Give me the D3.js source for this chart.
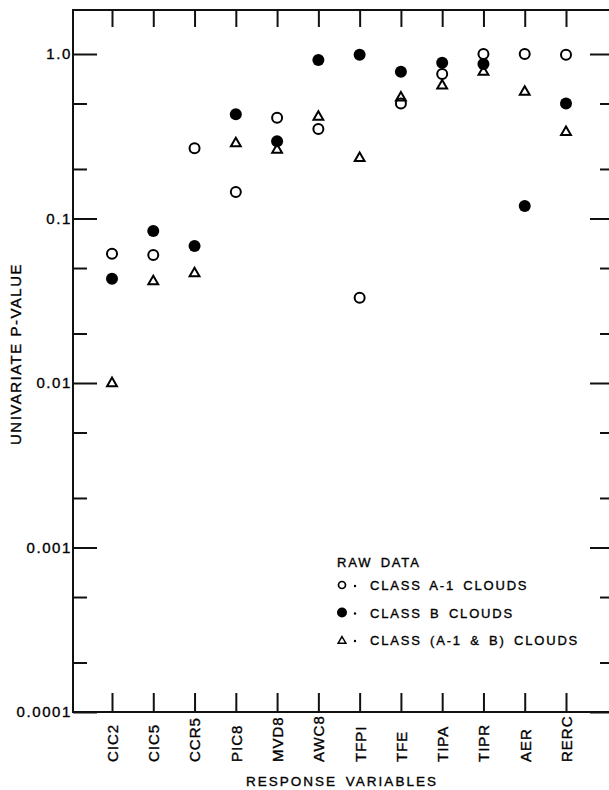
<!DOCTYPE html>
<html>

<head>
    <meta charset="utf-8" />
    <title>Univariate P-Value</title>
    <script type="text/javascript" src="https://cdn.jsdelivr.net/npm/d3@7"></script>
    <style>
        body { margin: 0; background: #fff; }
        svg text { font-family: "Liberation Sans", Arial, Helvetica, sans-serif; fill: #000; stroke: #000; stroke-width: 0.35; }
    </style>
</head>

<body>
    <script type="text/javascript">
        var categories = ["CIC2", "CIC5", "CCR5", "PIC8", "MVD8", "AWC8", "TFPI", "TFE", "TIPA", "TIPR", "AER", "RERC"];
        var classA1 = [0.061, 0.060, 0.267, 0.145, 0.41, 0.35, 0.033, 0.50, 0.755, 1.0, 1.0, 0.99];
        var classB = [0.043, 0.084, 0.068, 0.43, 0.295, 0.92, 0.99, 0.78, 0.885, 0.87, 0.119, 0.50];
        var classAB = [0.0101, 0.042, 0.047, 0.29, 0.265, 0.42, 0.236, 0.55, 0.65, 0.79, 0.596, 0.34];
        var majorTicks = [1, 0.1, 0.01, 0.001, 0.0001];
        var majorLabels = ["1.0", "0.1", "0.01", "0.001", "0.0001"];
        var minorTicks = [0.5, 0.2, 0.05, 0.02, 0.005, 0.002, 0.0005, 0.0002];
        var legendLabels = ["CLASS A-1 CLOUDS", "CLASS B CLOUDS", "CLASS (A-1 & B) CLOUDS"];

        var width = 609,
            height = 790,
            plotLeft = 73,
            plotRight = 611,
            plotTop = 10,
            plotBottom = 712;

        var svg = d3.select("body")
            .append("svg")
            .attr("width", width)
            .attr("height", height);

        var x = d3.scalePoint()
            .domain(categories)
            .range([112, 566]);

        var y = d3.scaleLog()
            .domain([0.0001, 1])
            .range([plotBottom, 54]);

        // frame (right edge falls just outside the picture)
        svg.append("path")
            .attr("d", `M${plotRight},${plotTop}H${plotLeft}V${plotBottom}H${plotRight}`)
            .attr("fill", "none")
            .attr("stroke", "#111")
            .attr("stroke-width", 2);

        function styleAxis(g) {
            g.select(".domain").remove();
            g.selectAll(".tick line").attr("stroke", "#111").attr("stroke-width", 2);
        }

        // left axis, ticks pointing inward
        svg.append("g")
            .attr("transform", `translate(${plotLeft},0)`)
            .call(d3.axisLeft(y)
                .tickValues(majorTicks)
                .tickSizeInner(-24)
                .tickSizeOuter(0)
                .tickPadding(1)
                .tickFormat((d, i) => majorLabels[i]))
            .call(styleAxis)
            .selectAll("text")
            .attr("font-size", 15)
            .attr("letter-spacing", 1.6);

        svg.append("g")
            .attr("transform", `translate(${plotLeft},0)`)
            .call(d3.axisLeft(y).tickValues(minorTicks).tickSizeInner(-14).tickSizeOuter(0).tickFormat(""))
            .call(styleAxis);

        // right axis
        svg.append("g")
            .attr("transform", `translate(${plotRight},0)`)
            .call(d3.axisRight(y).tickValues(majorTicks).tickSizeInner(-21).tickSizeOuter(0).tickFormat(""))
            .call(styleAxis);

        svg.append("g")
            .attr("transform", `translate(${plotRight},0)`)
            .call(d3.axisRight(y).tickValues(minorTicks).tickSizeInner(-11).tickSizeOuter(0).tickFormat(""))
            .call(styleAxis);

        // top and bottom ticks
        svg.append("g")
            .attr("transform", `translate(0,${plotTop})`)
            .call(d3.axisTop(x).tickSizeInner(-17).tickSizeOuter(0).tickFormat(""))
            .call(styleAxis);

        var xAxis = svg.append("g")
            .attr("transform", `translate(0,${plotBottom})`)
            .call(d3.axisBottom(x).tickSizeInner(-19).tickSizeOuter(0).tickPadding(0))
            .call(styleAxis);

        xAxis.selectAll("text")
            .attr("font-size", 15)
            .attr("letter-spacing", 1)
            .attr("text-anchor", "start")
            .attr("transform", "translate(0,50) rotate(-90)")
            .attr("x", 0)
            .attr("y", 0)
            .attr("dy", "0.36em");

        // axis titles
        svg.append("text")
            .attr("transform", "translate(21,354) rotate(-90)")
            .attr("text-anchor", "middle")
            .attr("font-size", 15)
            .attr("letter-spacing", 1.5)
            .text("UNIVARIATE P-VALUE");

        svg.append("text")
            .attr("x", 342)
            .attr("y", 786)
            .attr("text-anchor", "middle")
            .attr("font-size", 13.5)
            .attr("letter-spacing", 2)
            .attr("word-spacing", 3)
            .text("RESPONSE VARIABLES");

        // points
        var triangle = d3.symbol().type(d3.symbolTriangle).size(42);

        svg.append("g").selectAll("circle")
            .data(classB)
            .enter().append("circle")
            .attr("cx", (d, i) => x(categories[i]))
            .attr("cy", (d) => y(d))
            .attr("r", 6)
            .attr("fill", "#000");

        svg.append("g").selectAll("path")
            .data(classAB)
            .enter().append("path")
            .attr("d", triangle)
            .attr("transform", (d, i) => `translate(${x(categories[i])},${y(d) + 1})`)
            .attr("fill", "none")
            .attr("stroke", "#000")
            .attr("stroke-width", 2);

        svg.append("g").selectAll("circle")
            .data(classA1)
            .enter().append("circle")
            .attr("cx", (d, i) => x(categories[i]))
            .attr("cy", (d) => y(d))
            .attr("r", 5)
            .attr("fill", "none")
            .attr("stroke", "#000")
            .attr("stroke-width", 2);

        // legend
        var legend = svg.append("g")
            .attr("transform", "translate(337,0)");

        legend.append("text")
            .attr("x", 0)
            .attr("y", 567)
            .attr("font-size", 13)
            .attr("letter-spacing", 1.8)
            .attr("word-spacing", 3)
            .text("RAW DATA");

        var rows = legend.selectAll("g.row")
            .data(legendLabels)
            .enter().append("g")
            .attr("class", "row")
            .attr("transform", (d, i) => `translate(0,${585 + i * 27.5})`);

        rows.append("text")
            .attr("x", 33)
            .attr("y", 5)
            .attr("font-size", 13)
            .attr("letter-spacing", 1.8)
            .attr("word-spacing", 3)
            .text((d) => d);

        rows.append("circle")
            .attr("cx", 18)
            .attr("cy", 1)
            .attr("r", 1.2)
            .attr("fill", "#000");

        rows.filter((d, i) => i === 0).append("circle")
            .attr("cx", 5)
            .attr("cy", 0)
            .attr("r", 3.5)
            .attr("fill", "none")
            .attr("stroke", "#000")
            .attr("stroke-width", 1.7);

        rows.filter((d, i) => i === 1).append("circle")
            .attr("cx", 5)
            .attr("cy", 0)
            .attr("r", 5)
            .attr("fill", "#000");

        rows.filter((d, i) => i === 2).append("path")
            .attr("d", d3.symbol().type(d3.symbolTriangle).size(26))
            .attr("transform", "translate(5,1)")
            .attr("fill", "none")
            .attr("stroke", "#000")
            .attr("stroke-width", 1.5);
    </script>
</body>

</html>
